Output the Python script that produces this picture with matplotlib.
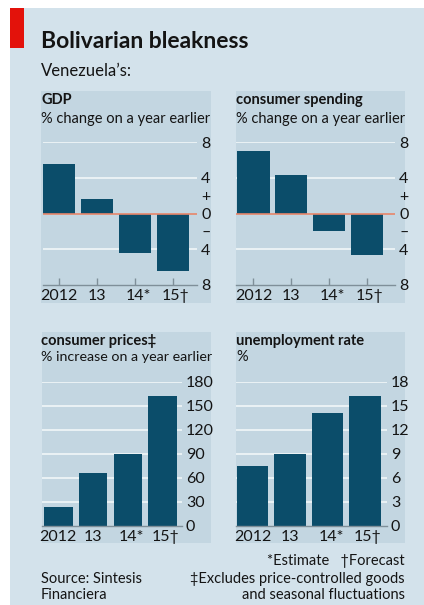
import matplotlib
matplotlib.use("Agg")
import matplotlib.pyplot as plt
from matplotlib.patches import Rectangle
from matplotlib.transforms import ScaledTranslation

plt.rcParams['font.family'] = ['Lato', 'DejaVu Sans']

# ---- data ----
years = ["2012", "13", "14*", "15\u2020"]
gdp = [5.5, 1.6, -4.4, -6.4]
consumer_spending = [7.0, 4.3, -2.0, -4.6]
consumer_prices = [23.5, 66, 89.5, 162]
unemployment = [7.5, 9.0, 14.1, 16.2]

W, H = 424, 605
fig = plt.figure(figsize=(W / 100, H / 100), dpi=100)
fig.patch.set_facecolor('white')

BG = '#d3e2eb'
PANEL = '#c3d6e1'
BAR = '#0b4d6a'
GRID = '#eef4f7'
AXIS = '#7f8f99'
ZERO = '#e8866a'
TXT = '#141414'


def fx(x):
    return x / W


def fy(y):
    return 1 - y / H


def rect(x0, y0, x1, y1, color, z=0):
    fig.patches.append(Rectangle((fx(x0), fy(y1)), fx(x1) - fx(x0), fy(y0) - fy(y1),
                                 transform=fig.transFigure, color=color, zorder=z, lw=0))


def text(x, y, s, size, bold=False, ha='left', va='baseline'):
    fig.text(fx(x), fy(y), s, fontsize=size, fontweight='bold' if bold else 'normal',
             ha=ha, va=va, color=TXT)


# backgrounds
rect(10, 8, 424, 605, BG, 0)
rect(10, 8, 24, 48, '#e3120b', 1)
rect(41, 91, 211, 303, PANEL, 1)
rect(236, 91, 405, 303, PANEL, 1)
rect(41.5, 331.5, 211, 543, PANEL, 1)
rect(235.5, 331.5, 405, 543, PANEL, 1)

# titles
text(41, 48.5, "Bolivarian bleakness", 16.5, bold=True)
text(41, 76.5, "Venezuela\u2019s:", 12)
text(41, 104, "GDP", 10.5, bold=True)
text(41, 122.5, "% change on a year earlier", 10.5)
text(236, 104, "consumer spending", 10.5, bold=True)
text(236, 122.5, "% change on a year earlier", 10.5)
text(41, 345.5, "consumer prices\u2021", 10.5, bold=True)
text(41, 361, "% increase on a year earlier", 10.3)
text(236, 345.5, "unemployment rate", 10.5, bold=True)
text(236, 361, "%", 10.5)

# footnotes
text(405, 565, "*Estimate   \u2020Forecast", 10.5, ha='right')
text(405, 583, "\u2021Excludes price-controlled goods", 10.5, ha='right')
text(405, 599, "and seasonal fluctuations", 10.5, ha='right')
text(41, 583, "Source: Sintesis", 10.5)
text(41, 599, "Financiera", 10.5)


def make_axes(box, xlim, ylim, values, width, grid_vals, ticks, ticklabels, zero_line):
    l, r, t, b = box
    ax = fig.add_axes([fx(l), fy(b), fx(r) - fx(l), fy(t) - fy(b)])
    ax.set_zorder(3)
    ax.patch.set_alpha(0)
    xs = list(range(len(years)))
    for g in grid_vals:
        ax.axhline(g, color=GRID, lw=1.3, zorder=1)
    ax.bar(xs, values, width=width, color=BAR, zorder=2)
    if zero_line:
        ax.axhline(0, color=ZERO, lw=1.2, zorder=3)
    ax.set_xlim(*xlim)
    ax.set_ylim(*ylim)
    for s in ['top', 'left', 'right']:
        ax.spines[s].set_visible(False)
    ax.spines['bottom'].set_color(AXIS)
    ax.spines['bottom'].set_linewidth(1.0)
    ax.spines['bottom'].set_zorder(4)
    ax.set_xticks(xs)
    ax.set_xticklabels(years, fontsize=11.5, color=TXT)
    ax.tick_params(axis='x', direction='in', length=5, width=1.0, color=AXIS, pad=3)
    ax.yaxis.tick_right()
    ax.set_yticks(ticks)
    ax.set_yticklabels(ticklabels, fontsize=11.5, color=TXT)
    ax.tick_params(axis='y', length=0, pad=3)
    for lab in ax.get_yticklabels():
        lab.set_horizontalalignment('left')
    # shift labels with trailing symbols so the number sits under the tick
    shifts = [0, 0, 3.5, 3.0]
    for lab, s in zip(ax.get_xticklabels(), shifts):
        lab.set_transform(lab.get_transform() + ScaledTranslation(s / 100, 0, fig.dpi_scale_trans))
    return ax


make_axes((42.7, 197, 142, 285), (-0.44, 3.64), (-8, 8), gdp, 0.85,
          [8, 4, -4], [8, 4, 2, 0, -2, -4, -8], ["8", "4", "+", "0", "\u2013", "4", "8"], True)
make_axes((236, 395, 142, 285), (-0.46, 3.74), (-8, 8), consumer_spending, 0.85,
          [8, 4, -4], [8, 4, 2, 0, -2, -4, -8], ["8", "4", "+", "0", "\u2013", "4", "8"], True)
make_axes((41.7, 181.7, 381.7, 525.5), (-0.48, 3.55), (0, 180), consumer_prices, 0.82,
          [180, 150, 120, 90, 60, 30], [0, 30, 60, 90, 120, 150, 180],
          ["0", "30", "60", "90", "120", "150", "180"], False)
make_axes((236, 386.7, 381.7, 525.5), (-0.44, 3.58), (0, 18), unemployment, 0.84,
          [18, 15, 12, 9, 6, 3], [0, 3, 6, 9, 12, 15, 18],
          ["0", "3", "6", "9", "12", "15", "18"], False)

fig.savefig("out.png", dpi=100)
